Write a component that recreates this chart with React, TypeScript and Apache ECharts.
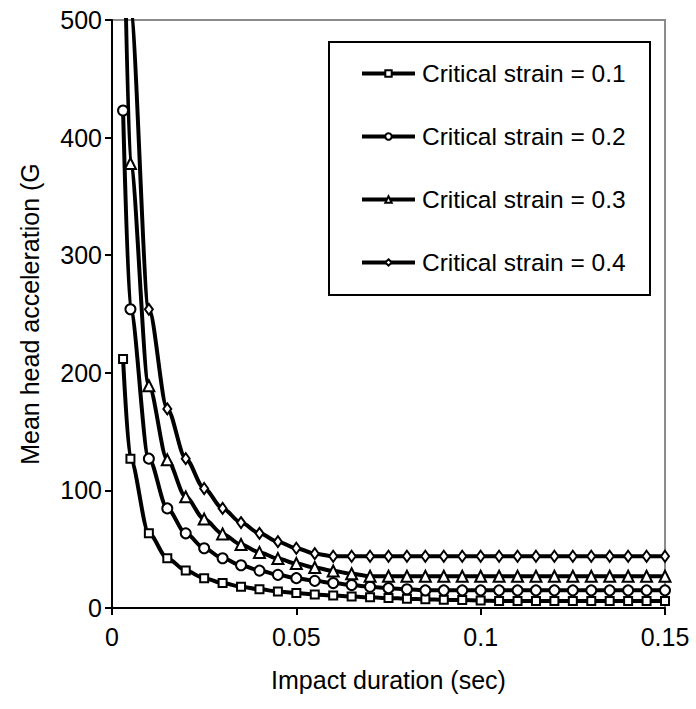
import React, { useEffect, useRef } from "react";
import * as echarts from "echarts";

const impactDuration = [
  0.003, 0.005, 0.01, 0.015, 0.02, 0.025, 0.03, 0.035, 0.04, 0.045, 0.05,
  0.055, 0.06, 0.065, 0.07, 0.075, 0.08, 0.085, 0.09, 0.095, 0.1, 0.105,
  0.11, 0.115, 0.12, 0.125, 0.13, 0.135, 0.14, 0.145, 0.15,
];

const strain01 = [
  211.7, 127, 63.5, 42.3, 31.8, 25.4, 21.2, 18.1, 15.9, 14.1, 12.7, 11.5,
  10.6, 9.8, 9.1, 8.5, 7.9, 7.5, 7.1, 6.7, 6.4, 6.0, 6.0, 6.0, 6.0, 6.0, 6.0,
  6.0, 6.0, 6.0, 6.0,
];
const strain02 = [
  423, 254, 127, 84.7, 63.5, 50.8, 42.3, 36.3, 31.8, 28.2, 25.4, 23.1, 21.2,
  19.5, 18.1, 16.9, 15.9, 15, 15, 15, 15, 15, 15, 15, 15, 15, 15, 15, 15, 15,
  15,
];
const strain03 = [
  630, 378, 189, 126, 94.5, 75.6, 63, 54, 47.3, 42, 37.8, 34.4, 31.5, 29.1,
  27, 27, 27, 27, 27, 27, 27, 27, 27, 27, 27, 27, 27, 27, 27, 27, 27,
];
const strain04 = [
  847, 508, 254, 169.3, 127, 101.6, 84.7, 72.6, 63.5, 56.4, 50.8, 46.2, 44,
  44, 44, 44, 44, 44, 44, 44, 44, 44, 44, 44, 44, 44, 44, 44, 44, 44, 44,
];

const seriesNames = [
  "Critical strain = 0.1",
  "Critical strain = 0.2",
  "Critical strain = 0.3",
  "Critical strain = 0.4",
];
const seriesValues = [strain01, strain02, strain03, strain04];
const seriesSymbols = ["rect", "circle", "triangle", "diamond"];
const symbolSizes: any[] = [8, 10, 11, [8, 11]];

const FONT = "'Liberation Sans', Arial, sans-serif";

export default function App() {
  const ref = useRef<HTMLDivElement>(null);
  useEffect(() => {
    if (!ref.current) return;
    const chart = echarts.init(ref.current, undefined, { renderer: "svg" });
    const series = seriesNames.map((name, i) => ({
      name,
      type: "line",
      data: impactDuration.map((t, j) => [t, seriesValues[i][j]]),
      symbol: seriesSymbols[i],
      symbolSize: symbolSizes[i],
      showAllSymbol: true,
      smooth: 0.3,
      smoothMonotone: "x",
      clip: true,
      lineStyle: { color: "#000", width: 4 },
      itemStyle: { color: "#fff", borderColor: "#000", borderWidth: 2 },
      emphasis: { disabled: true },
    }));
    chart.setOption({
      animation: false,
      backgroundColor: "#fff",
      textStyle: { fontFamily: FONT },
      grid: {
        left: 112,
        top: 20,
        right: 31,
        bottom: 101,
        show: true,
        borderColor: "#8c8c8c",
        borderWidth: 2,
        backgroundColor: "transparent",
      },
      xAxis: {
        type: "value",
        min: 0,
        max: 0.15,
        interval: 0.05,
        name: "Impact duration (sec)",
        nameLocation: "middle",
        nameGap: 59,
        nameTextStyle: { fontSize: 25, color: "#000", fontFamily: FONT },
        axisLine: { show: true, lineStyle: { color: "#000", width: 2 } },
        axisTick: { show: true, length: 7, lineStyle: { color: "#000", width: 2 } },
        axisLabel: { fontSize: 25, color: "#000", margin: 16, fontFamily: FONT },
        splitLine: { show: false },
      },
      yAxis: {
        type: "value",
        min: 0,
        max: 500,
        interval: 100,
        name: "Mean head acceleration (G",
        nameLocation: "middle",
        nameRotate: 90,
        nameGap: 70,
        nameTextStyle: { fontSize: 25, color: "#000", fontFamily: FONT },
        axisLine: { show: true, lineStyle: { color: "#000", width: 2 } },
        axisTick: { show: true, length: 7, lineStyle: { color: "#000", width: 2 } },
        axisLabel: { fontSize: 25, color: "#000", margin: 10, fontFamily: FONT },
        splitLine: { show: false },
      },
      legend: {
        orient: "vertical",
        left: 360,
        top: 61,
        itemWidth: 53,
        itemHeight: 8,
        itemGap: 38,
        padding: 0,
        lineStyle: { width: 4 },
        itemStyle: { borderWidth: 2 },
        textStyle: { fontSize: 24.5, color: "#000", lineHeight: 25, fontFamily: FONT, padding: [0, 0, 0, 2] },
        data: seriesNames,
        selectedMode: false,
      },
      graphic: [
        {
          type: "rect",
          shape: { x: 329, y: 42, width: 321, height: 253 },
          style: { fill: "#fff", stroke: "#000", lineWidth: 2 },
          z: 0,
          zlevel: 0,
        },
      ],
      series,
    });
    return () => chart.dispose();
  }, []);
  return (
    <div
      ref={ref}
      style={{ position: "absolute", left: 0, top: 0, width: 696, height: 709 }}
    />
  );
}
